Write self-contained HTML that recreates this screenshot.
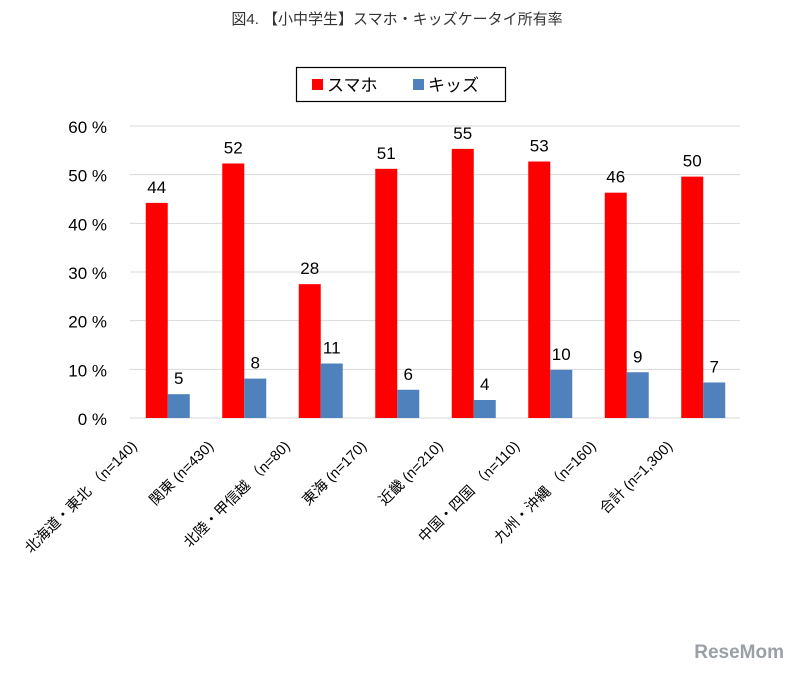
<!DOCTYPE html>
<html><head><meta charset="utf-8"><style>
body{margin:0;background:#fff;}
svg text{font-family:"Liberation Sans","Noto Sans CJK JP",sans-serif;}
</style></head><body>
<svg width="795" height="672" viewBox="0 0 795 672">
<text x="397" y="24" text-anchor="middle" font-size="15" fill="#333">図4. 【小中学生】スマホ・キッズケータイ所有率</text>
<g>
<rect x="296.5" y="67.5" width="209" height="34" fill="#fff" stroke="#000" stroke-width="1.2"/>
<rect x="312" y="79" width="11" height="11" fill="#ff0000"/>
<text x="327" y="91" font-size="17" fill="#000">スマホ</text>
<rect x="413" y="79" width="11" height="11" fill="#4f81bd"/>
<text x="428" y="91" font-size="17" fill="#000">キッズ</text>
</g>
<g id="grid"></g><g id="bars"></g><g id="labels"></g>
<text x="784" y="658" text-anchor="end" font-size="19" font-weight="bold" fill="#9aa0a6">ReseMom</text>
</svg>
<script>
const categories=["北海道・東北 （n=140)","関東 (n=430)","北陸・甲信越 （n=80)","東海 (n=170)","近畿 (n=210)","中国・四国 （n=110)","九州・沖縄 （n=160)","合計 (n=1,300)"];
const smartphone=[44.2,52.3,27.5,51.2,55.3,52.7,46.3,49.6];
const kids=[4.9,8.1,11.2,5.8,3.7,9.9,9.4,7.3];
const ticks=[0,10,20,30,40,50,60];
const NS="http://www.w3.org/2000/svg";
const y0=418,pxPer=(418-126)/60;
const y=v=>y0-v*pxPer;
const x0=130,step=76.5;
const cx=i=>x0+step*(i+0.5)-0.5;
function mk(t,a,p){const e=document.createElementNS(NS,t);for(const k in a)e.setAttribute(k,a[k]);p.appendChild(e);return e;}
const g=document.getElementById('grid'),b=document.getElementById('bars'),l=document.getElementById('labels');
ticks.forEach(t=>{
 const ln=mk('line',{x1:130,x2:740,y1:y(t),y2:y(t),stroke:'#d9d9d9','stroke-width':1},g);
 
 
 const tx=mk('text',{x:107,y:y(t)+7,'text-anchor':'end','font-size':17,fill:'#000'},g);
 tx.textContent=t+' %';
 
 
});
const bw=22;
categories.forEach((c,i)=>{
 const c0=cx(i);
 const r=mk('rect',{x:c0-bw,y:y(smartphone[i]),width:bw,height:y0-y(smartphone[i]),fill:'#ff0000'},b);
 
 
 const k=mk('rect',{x:c0,y:y(kids[i]),width:bw,height:y0-y(kids[i]),fill:'#4f81bd'},b);
 
 
 const t1=mk('text',{x:c0-bw/2,y:y(smartphone[i])-10,'text-anchor':'middle','font-size':17,fill:'#000'},l);
 t1.textContent=Math.round(smartphone[i]);
 
 
 const t2=mk('text',{x:c0+bw/2,y:y(kids[i])-10,'text-anchor':'middle','font-size':17,fill:'#000'},l);
 t2.textContent=Math.round(kids[i]);
 
 
 const ax=c0-30,ay=447;
 const ct=mk('text',{x:ax,y:ay,'text-anchor':'end','font-size':14.5,fill:'#000',transform:`rotate(-45 ${ax} ${ay})`},l);
 ct.textContent=c;
 
 
});
</script>
</body></html>
